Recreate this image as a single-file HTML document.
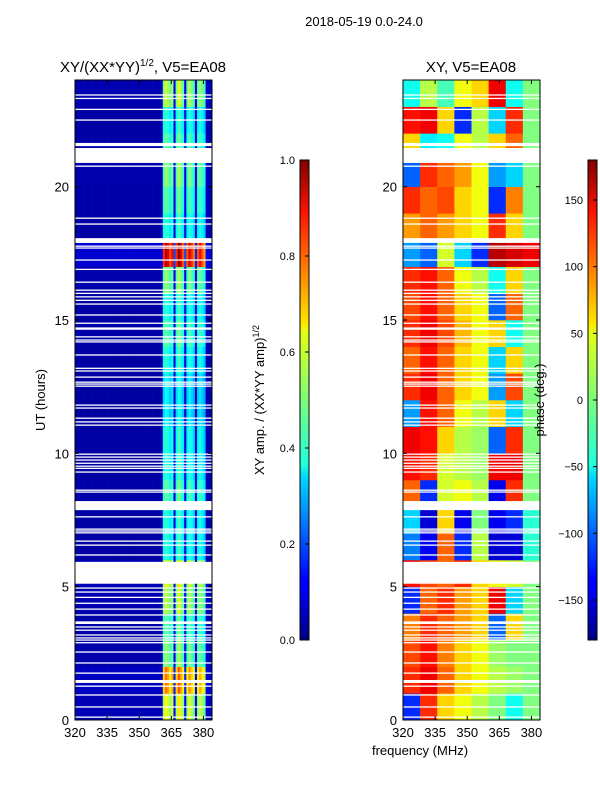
<!DOCTYPE html>
<html><head><meta charset="utf-8"><style>
body{margin:0;background:#fff;}
svg text{font-family:"Liberation Sans","DejaVu Sans",sans-serif;fill:#000;}
</style></head><body>
<svg id="fig" width="600" height="800" viewBox="0 0 600 800" xmlns="http://www.w3.org/2000/svg">
<defs>
<linearGradient id="jet" x1="0" y1="1" x2="0" y2="0">
<stop offset="0" stop-color="#000080"/><stop offset="0.11" stop-color="#0000ff"/><stop offset="0.125" stop-color="#0000ff"/>
<stop offset="0.34" stop-color="#00d8ff"/><stop offset="0.365" stop-color="#1fffe0"/><stop offset="0.5" stop-color="#7dff7a"/>
<stop offset="0.64" stop-color="#e0ff17"/><stop offset="0.66" stop-color="#ffe600"/><stop offset="0.89" stop-color="#ff1300"/><stop offset="1" stop-color="#800000"/>
</linearGradient>
</defs>
<text x="364" y="26" font-size="13" text-anchor="middle">2018-05-19 0.0-24.0</text>
<text x="143" y="72" font-size="15" text-anchor="middle">XY/(XX*YY)<tspan font-size="10" dy="-6">1/2</tspan><tspan dy="6">, V5=EA08</tspan></text>
<text x="471" y="72" font-size="15" text-anchor="middle">XY, V5=EA08</text>
<g id="ampPanel"></g>
<g id="phPanel"></g>
<g id="axes"></g>
<text transform="translate(45,400) rotate(-90)" font-size="13" text-anchor="middle">UT (hours)</text>
<text x="420" y="755" font-size="13" text-anchor="middle">frequency (MHz)</text>
<rect x="300" y="160" width="9" height="480" fill="url(#jet)" stroke="#000" stroke-width="1"/>
<rect x="588" y="160" width="9" height="480" fill="url(#jet)" stroke="#000" stroke-width="1"/>
<text transform="translate(264,400) rotate(-90)" font-size="13" text-anchor="middle">XY amp. / (XX*YY amp)<tspan font-size="9" dy="-5">1/2</tspan></text>
<text transform="translate(544,400) rotate(-90)" font-size="13" text-anchor="middle">phase (deg.)</text>
<g id="cb"></g>
</svg>
<script>
// amplitude: per-MHz frequency profile (320..383) and per-hour row factor
const ampProfile=[0.04,0.04,0.04,0.04,0.04,0.04,0.04,0.04,0.04,0.04,0.04,0.04,0.04,0.04,0.04,0.04,0.04,0.04,0.04,0.04,
0.04,0.04,0.04,0.04,0.04,0.04,0.04,0.04,0.04,0.04,0.04,0.04,0.04,0.04,0.04,0.04,0.04,0.04,0.04,0.04,
0.05,0.42,0.48,0.45,0.40,0.44,0.10,0.42,0.50,0.45,0.40,0.10,0.40,0.46,0.42,0.38,0.08,0.40,0.44,0.40,0.36,0.06,0.05,0.05];
const ampRow=[1.3,1.6,1.1,1.0,1.2,1.3,0.9,0.9,1.0,0.9,0.9,0.8,0.8,0.9,1.0,0.9,1.1,2.0,0.9,1.0,1.1,1.0,0.9,1.2];
// phase: hourly rows (0..23) x 8 MHz bins (320..384)
const phaseRows=[
[-120,120,60,40,20,0,-40,0],[120,140,100,60,40,20,10,0],[110,130,90,60,40,10,0,0],[90,120,100,80,60,-100,60,0],
[-120,100,120,80,60,140,-60,0],[130,110,100,120,60,40,30,0],[-90,-140,100,-120,20,-150,-150,-30],[-60,-150,60,-140,0,-140,-120,-30],
[100,-120,30,40,20,-140,120,0],[130,120,30,20,10,140,140,0],[140,130,60,20,10,-100,120,0],[-80,130,100,40,20,60,-60,0],
[120,140,100,60,40,-80,110,0],[100,130,100,60,40,-60,60,0],[120,140,110,70,40,60,-40,0],[110,130,100,60,40,-100,100,0],
[120,130,100,40,20,-40,60,0],[-80,-100,30,-60,-120,160,150,140],[80,100,80,60,40,120,60,0],[120,100,110,60,40,-120,90,0],
[-100,120,100,80,40,-80,-60,0],[60,-50,-40,40,20,60,100,0],[130,140,60,-120,20,-60,120,0],[-40,20,-20,40,60,140,-40,0]];
// gaps (hours) : thick [start,end] and thin line centers
const gapBands=[[21.52,21.64],[20.89,21.45],[17.89,18.07],[7.87,8.21],[5.11,5.93],[3.6,3.7],[1.39,1.5]];
const gapLines=[23.44,23.31,22.9,22.5,20.77,18.82,18.6,17.77,17.7,17.25,16.9,16.42,16.12,16.0,15.87,15.74,15.6,15.19,14.88,14.7,14.66,14.37,14.25,14.18,13.69,13.19,13.09,12.86,12.67,12.6,12.52,
11.81,11.7,11.32,11.18,11.06,9.97,9.86,9.75,9.63,9.52,9.44,9.3,8.62,8.55,7.62,7.16,7.09,7.02,6.71,6.56,6.19,4.95,4.8,4.6,4.38,4.16,3.94,3.49,3.37,3.19,3.08,3.0,2.9,2.55,2.14,1.76,1.27,0.94,0.49,0.11];
const xTicks=[320,335,350,365,380], yTicks=[0,5,10,15,20];
const ampTicks=[0.0,0.2,0.4,0.6,0.8,1.0], phTicks=[-150,-100,-50,0,50,100,150];

const NS='http://www.w3.org/2000/svg';
function jet(v){v=Math.max(0,Math.min(1,v));
 const f=(x)=>Math.max(0,Math.min(1,x));
 const r=f(Math.min(4*v-1.5,-4*v+4.5)),g=f(Math.min(4*v-0.5,-4*v+3.5)),b=f(Math.min(4*v+0.5,-4*v+2.5));
 return 'rgb('+Math.round(r*255)+','+Math.round(g*255)+','+Math.round(b*255)+')';}
const yS=h=>720-h*(640/24);
const mk=(p,t,a)=>{const e=document.createElementNS(NS,t);for(const k in a)e.setAttribute(k,a[k]);p.appendChild(e);return e;};
function panel(id,x0){
 const xS=f=>x0+(f-320)*(137/64);
 return xS;}
const ampG=document.getElementById('ampPanel'), phG=document.getElementById('phPanel');
const xA=panel('a',75), xP=panel('p',403);
for(let h=0;h<24;h++){for(let c=0;c<ampProfile.length;c++){
 const r=mk(ampG,'rect',{x:xA(320+c),y:yS(h+1),width:xA(321+c)-xA(320+c)+0.3,height:640/24+0.3,fill:jet(ampProfile[c]*ampRow[h])});
 
 }}
for(let h=0;h<24;h++){for(let c=0;c<8;c++){
 const r=mk(phG,'rect',{x:xP(320+c*8),y:yS(h+1),width:xP(328)-xP(320)+0.3,height:640/24+0.3,fill:jet((phaseRows[h][c]+180)/360)});
 
 }}
const ax=document.getElementById('axes');
[75,403].forEach(x0=>{
 gapBands.forEach(b=>{const r=mk(ax,'rect',{x:x0,y:yS(b[1]),width:137,height:yS(b[0])-yS(b[1]),fill:'#fff'});
  });
 gapLines.forEach(h=>{const r=mk(ax,'rect',{x:x0,y:yS(h)-0.6,width:137,height:1.3,fill:'#fff'});
  });
 const fr=mk(ax,'rect',{x:x0,y:80,width:137,height:640,fill:'none',stroke:'#000','stroke-width':1});
 
 const xS=f=>x0+(f-320)*(137/64);
 xTicks.forEach(t=>{mk(ax,'line',{x1:xS(t),x2:xS(t),y1:720,y2:716,stroke:'#000'});mk(ax,'line',{x1:xS(t),x2:xS(t),y1:80,y2:84,stroke:'#000'});
  const tx=mk(ax,'text',{x:xS(t),y:737,'font-size':13,'text-anchor':'middle'});tx.textContent=t;
  });
 yTicks.forEach(t=>{mk(ax,'line',{x1:x0,x2:x0+4,y1:yS(t),y2:yS(t),stroke:'#000'});mk(ax,'line',{x1:x0+133,x2:x0+137,y1:yS(t),y2:yS(t),stroke:'#000'});
  const tx=mk(ax,'text',{x:x0-6,y:yS(t)+5,'font-size':13,'text-anchor':'end'});tx.textContent=t;
  });
});
const cb=document.getElementById('cb');
ampTicks.forEach(t=>{const y=640-t*480;mk(cb,'line',{x1:305,x2:309,y1:y,y2:y,stroke:'#000'});
 const tx=mk(cb,'text',{x:295,y:y+4,'font-size':11,'text-anchor':'end'});tx.textContent=t.toFixed(1);
 });
phTicks.forEach(t=>{const y=400-t*(480/360);mk(cb,'line',{x1:593,x2:597,y1:y,y2:y,stroke:'#000'});
 const tx=mk(cb,'text',{x:583,y:y+4,'font-size':11,'text-anchor':'end'});tx.textContent=t<0?'\u2212'+(-t):t;
 });
</script>
</body></html>
